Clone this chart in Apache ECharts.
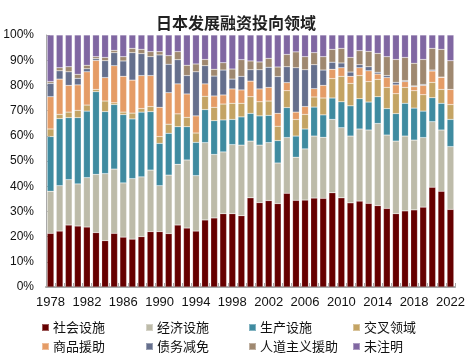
<!DOCTYPE html>
<html><head><meta charset="utf-8">
<script src="https://cdn.jsdelivr.net/npm/echarts@6/dist/echarts.min.js"></script>
<style>html,body{margin:0;padding:0;background:#fff}#c{width:472px;height:355px}</style>
</head><body><div id="c"></div>
<script>
const years = [];
for (let y = 1978; y <= 2022; y++) years.push(String(y));

const names = ['社会设施','经济设施','生产设施','交叉领域','商品援助','债务减免','人道主义援助','未注明'];
const colors = ['#660000','#BDBBA9','#3F8BA0','#C4A464','#E59C66','#656F8D','#9F8870','#8067A2'];

const social = [21.3,22.2,24.6,24.2,23.8,21.6,18.4,21.3,19.8,19.0,20.0,22.0,22.0,21.2,24.6,23.4,22.2,26.6,27.4,29.1,29.1,28.3,35.4,33.5,34.3,33.1,37.2,34.4,34.5,35.3,35.2,37.4,35.4,33.4,34.1,33.2,32.3,31.2,29.1,30.2,30.6,31.7,39.6,38.0,30.8];
const economic = [16.7,18.0,18.0,16.7,19.6,23.1,26.6,25.5,21.5,24.0,23.7,24.4,18.2,23.2,24.1,27.0,22.0,30.7,25.2,24.5,27.4,28.0,22.5,22.8,23.0,16.1,22.1,17.1,20.3,24.6,24.2,29.1,27.8,26.5,28.6,29.1,32.6,29.1,28.8,29.7,27.7,27.6,26.0,24.3,24.9];
const production = [21.7,26.6,24.6,26.3,26.4,32.8,24.6,25.6,27.1,23.7,25.7,23.2,16.8,16.6,14.9,13.2,13.2,13.1,13.4,12.7,10.0,11.2,11.0,11.6,10.8,8.9,11.9,8.4,7.9,11.5,8.9,8.5,10.3,12.0,12.0,11.1,10.6,10.5,10.9,13.0,12.7,10.5,9.5,10.6,10.8];
const crossCutting = [3.0,1.7,2.2,2.9,2.4,0.9,4.2,0.7,1.0,2.3,1.4,2.0,2.7,3.6,5.1,3.7,3.7,5.3,5.3,6.3,6.4,5.4,6.6,5.6,5.7,5.7,6.7,6.6,5.8,4.0,6.7,7.7,10.1,8.9,9.2,8.1,6.9,8.4,7.9,6.3,6.9,6.5,6.1,5.5,5.9];
const commodity = [12.8,14.0,10.6,10.1,13.2,11.5,9.3,14.7,14.2,13.1,13.1,12.3,11.6,12.5,11.9,9.3,6.8,4.9,4.5,3.6,5.7,5.3,6.2,5.1,5.4,5.1,3.2,2.9,3.1,3.3,5.0,3.7,3.4,2.8,3.1,4.3,2.1,3.9,3.5,2.3,1.6,3.7,4.5,4.8,6.0];
const debtRelief = [5.3,3.3,5.4,2.6,1.2,0.7,6.7,5.2,6.1,10.9,8.7,7.5,20.8,11.3,9.6,7.3,17.5,7.2,7.9,9.9,3.9,5.4,4.5,7.6,8.0,14.6,6.3,17.6,14.6,9.5,6.1,2.8,1.9,1.7,1.2,1.6,0.7,0.8,1.0,0.4,0.3,0.4,0.4,0.1,0];
const humanitarian = [0.7,1.2,2.0,1.6,1.4,0.8,1.3,0.9,1.7,1.7,1.7,2.0,1.3,3.4,3.2,4.1,3.1,2.5,2.7,2.9,4.0,6.6,3.5,3.1,3.5,3.8,4.9,6.3,5.2,4.8,5.3,5.1,5.8,5.8,5.6,6.1,7.5,7.5,9.1,9.2,9.0,9.9,8.6,11.0,11.4];
const unspecified = [18.5,13.0,12.6,15.6,12.0,8.6,8.9,6.1,8.6,5.3,5.7,6.6,6.6,8.2,6.6,12.0,11.5,9.7,13.6,11.0,13.5,9.8,10.3,10.7,9.3,12.7,7.7,6.7,8.6,7.0,8.6,5.7,5.3,8.9,6.2,6.5,7.3,8.6,9.7,8.9,11.2,9.7,5.3,5.7,10.2];

const yTicks = [0,10,20,30,40,50,60,70,80,90,100];

const seriesData = [social, economic, production, crossCutting, commodity, debtRelief, humanitarian, unspecified];
const font = '"Liberation Sans", "Noto Sans CJK SC", sans-serif';

const legendPos = [[36,316],[140,316],[243,316],[347,316],[36,335],[140,335],[243,335],[347,335]];

const chart = echarts.init(document.getElementById('c'), null, {renderer:'canvas'});
chart.setOption({
  animation: false,
  backgroundColor: '#fff',
  title: {
    text: '日本发展融资投向领域', left: 'center', top: 10,
    textStyle: {fontSize: 16, fontWeight: 'bold', color: '#222', fontFamily: '"Noto Sans CJK SC", sans-serif'}
  },
  legend: names.map((n, i) => ({
    data: [n], left: legendPos[i][0], top: legendPos[i][1],
    icon: 'rect', itemWidth: 7, itemHeight: 7, itemGap: 0,
    textStyle: {fontSize: 13, color: '#111', fontFamily: '"Noto Sans CJK SC", sans-serif', padding: [0,0,0,-1]}
  })),
  grid: {left: 46, right: 17, top: 35, bottom: 68, containLabel: false},
  xAxis: {
    type: 'category', data: years,
    axisLine: {lineStyle: {color: '#a8a8a8', width: 2}},
    axisTick: {show: true, inside: true, interval: 0, length: 4, lineStyle: {color: '#a8a8a8'}},
    axisLabel: {interval: 3, fontSize: 13, color: '#111', margin: 9, fontFamily: font}
  },
  yAxis: {
    type: 'value', min: yTicks[0], max: yTicks[yTicks.length-1], interval: 10,
    axisLine: {show: true, lineStyle: {color: '#a8a8a8', width: 1}},
    axisTick: {show: true, inside: true, length: 4, lineStyle: {color: '#a8a8a8'}},
    splitLine: {show: false},
    axisLabel: {formatter: '{value}%', fontSize: 12, color: '#111', margin: 12, fontFamily: font}
  },
  series: names.map((n, i) => ({
    name: n, type: 'bar', stack: 'total', data: seriesData[i],
    barCategoryGap: '26%',
    itemStyle: {color: colors[i], borderColor: 'rgba(255,255,255,0.35)', borderWidth: 0.5}
  }))
});
</script></body></html>
